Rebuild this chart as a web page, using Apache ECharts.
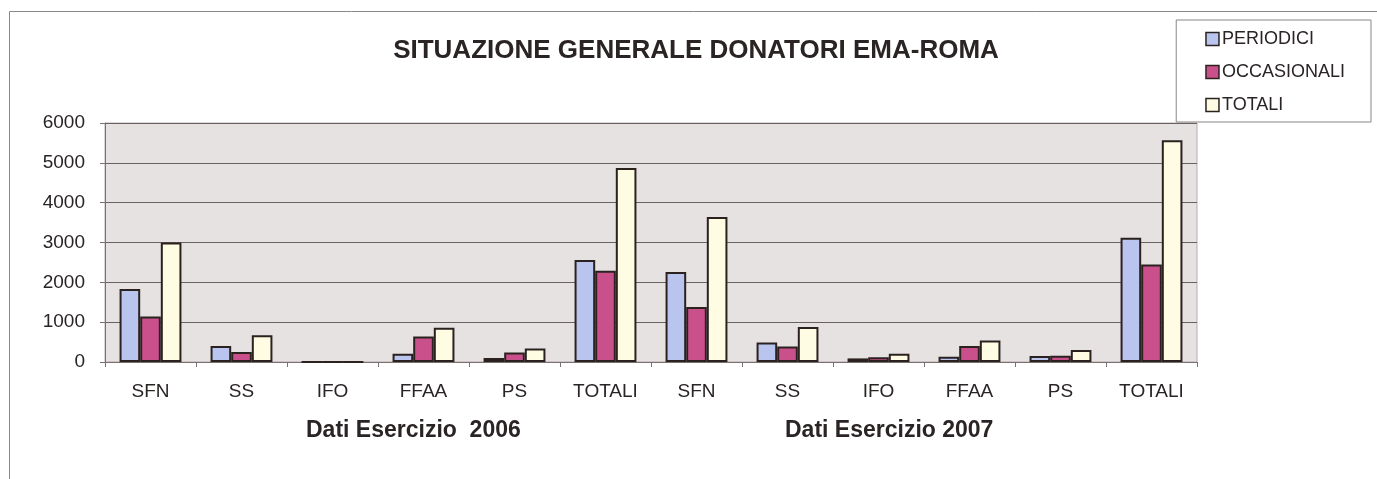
<!DOCTYPE html>
<html>
<head>
<meta charset="utf-8">
<title>Situazione generale donatori EMA-Roma</title>
<script src="https://cdn.jsdelivr.net/npm/echarts@6/dist/echarts.min.js"></script>
<style>
  html, body { margin: 0; padding: 0; background: #fff; }
  #chart { width: 1377px; height: 479px; }
</style>
</head>
<body>
<div id="chart"></div>
<script>
// categorie (2006 + 2007)
const categories = ['SFN', 'SS', 'IFO', 'FFAA', 'PS', 'TOTALI', 'SFN', 'SS', 'IFO', 'FFAA', 'PS', 'TOTALI'];
const periodici = [1830, 400, 0, 210, 100, 2560, 2260, 490, 90, 130, 150, 3120];
const occasionali = [1140, 250, 0, 640, 240, 2290, 1380, 390, 120, 400, 160, 2450];
const totali = [3000, 670, 0, 860, 340, 4870, 3640, 880, 210, 540, 300, 5570];
const groupLabels = ['Dati Esercizio  2006', 'Dati Esercizio 2007'];

const FONT = '"Liberation Sans", Arial, sans-serif';
const TEXT = '#2a2424';
const EDGE = '#2b2220';

const chart = echarts.init(document.getElementById('chart'));

function barSeries(name, data, color) {
  return {
    name: name,
    type: 'bar',
    data: data,
    barGap: '0%',
    barCategoryGap: '32%',
    itemStyle: { color: color, borderColor: EDGE, borderWidth: 2 },
    animation: false
  };
}

function groupLabel(text, x) {
  return {
    type: 'text',
    left: x,
    top: 419,
    style: { text: text, fontFamily: FONT, fontSize: 23, fontWeight: 'bold', fill: TEXT }
  };
}

chart.setOption({
  backgroundColor: '#fff',
  title: {
    text: 'SITUAZIONE GENERALE DONATORI EMA-ROMA',
    left: 696,
    top: 38,
    padding: 0,
    textAlign: 'center',
    textStyle: { fontFamily: FONT, fontSize: 26, fontWeight: 'bold', color: TEXT }
  },
  legend: {
    orient: 'vertical',
    right: 6,
    top: 20,
    padding: [9, 26, 7, 29],
    itemGap: 13,
    itemWidth: 13,
    itemHeight: 13,
    icon: 'rect',
    borderColor: '#8a8585',
    borderWidth: 1,
    backgroundColor: '#fff',
    itemStyle: { borderColor: EDGE, borderWidth: 1.5 },
    textStyle: { fontFamily: FONT, fontSize: 18, color: TEXT, lineHeight: 20, padding: [0, 0, 0, -2] },
    data: ['PERIODICI', 'OCCASIONALI', 'TOTALI']
  },
  grid: {
    left: 105,
    right: 180,
    top: 123,
    bottom: 117,
    show: true,
    backgroundColor: '#e6e2e2',
    borderColor: '#b9aab5',
    borderWidth: 1
  },
  xAxis: {
    type: 'category',
    data: categories,
    axisLine: { lineStyle: { color: '#7a7070', width: 1 } },
    axisTick: { show: true, length: 5, lineStyle: { color: '#7a7070' } },
    axisLabel: { fontFamily: FONT, fontSize: 19, color: TEXT, margin: 20, interval: 0 }
  },
  yAxis: {
    type: 'value',
    min: 0,
    max: 6000,
    interval: 1000,
    axisLine: { show: true, lineStyle: { color: '#7a7070', width: 1 } },
    axisTick: { show: true, length: 5, lineStyle: { color: '#7a7070' } },
    axisLabel: { fontFamily: FONT, fontSize: 19, color: TEXT, margin: 20, formatter: v => String(v) },
    splitLine: { lineStyle: { color: '#686262', width: 1 } }
  },
  graphic: [
    {
      type: 'rect',
      left: 7,
      top: 9,
      shape: { width: 1400, height: 500 },
      style: { fill: null, stroke: '#8d8888', lineWidth: 1 },
      silent: true
    },
    groupLabel(groupLabels[0], 306),
    groupLabel(groupLabels[1], 785)
  ],
  series: [
    barSeries('PERIODICI', periodici, '#b9c5ee'),
    barSeries('OCCASIONALI', occasionali, '#c9508a'),
    barSeries('TOTALI', totali, '#fefde3')
  ]
});
</script>
</body>
</html>
